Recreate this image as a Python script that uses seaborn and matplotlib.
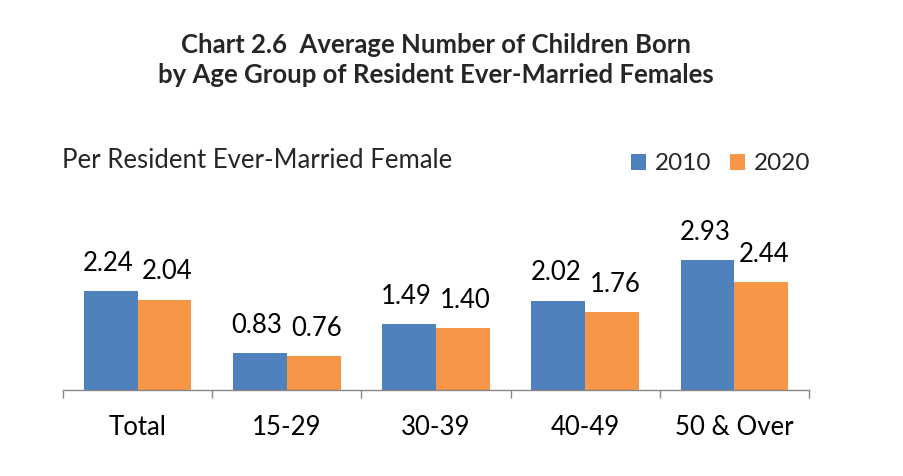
import matplotlib
matplotlib.use("Agg")
import matplotlib.pyplot as plt
import seaborn as sns
import pandas as pd
from matplotlib.patches import Patch

categories = ["Total", "15-29", "30-39", "40-49", "50 & Over"]
years = ["2010", "2020"]
values_2010 = [2.24, 0.83, 1.49, 2.02, 2.93]
values_2020 = [2.04, 0.76, 1.40, 1.76, 2.44]

sns.set_theme(style="white")
plt.rcParams['font.family'] = ['Lato', 'DejaVu Sans']

df = pd.DataFrame({
    "Age group": categories * 2,
    "Year": [years[0]] * len(categories) + [years[1]] * len(categories),
    "Value": values_2010 + values_2020,
})

colors = {"2010": "#4F81BD", "2020": "#F79646"}

fig = plt.figure(figsize=(9.04, 4.76), dpi=100)
ax = fig.add_axes([63/904, 86/476, 746/904, 154/476])

sns.barplot(data=df, x="Age group", y="Value", hue="Year", palette=colors,
            order=categories, hue_order=years, width=0.72, ax=ax,
            edgecolor="none", saturation=1, legend=False)

ax.set_ylim(0, 3.48)
ax.set_xlim(-0.5, len(categories) - 0.5)
ax.set_xlabel("")
ax.set_ylabel("")
ax.set_yticks([])
for s in ["top", "right", "left"]:
    ax.spines[s].set_visible(False)
ax.spines["bottom"].set_color("#868686")
ax.spines["bottom"].set_linewidth(1.0)

ax.set_xticks(range(len(categories)))
ax.set_xticklabels(categories, fontsize=18.5, color="#000000")
ax.tick_params(axis="x", length=0, pad=18)
ax.set_xticks([i - 0.5 for i in range(len(categories) + 1)], minor=True)
ax.tick_params(axis="x", which="minor", length=6, color="#868686", width=1, direction="out", bottom=True)

# value labels
for ci, cont in enumerate(ax.containers):
    vals = values_2010 if ci == 0 else values_2020
    dx = -2 if ci == 0 else 2
    for bar, v in zip(cont, vals):
        ax.annotate(f"{v:.2f}", (bar.get_x() + bar.get_width() / 2, bar.get_height()),
                    xytext=(dx, 11), textcoords="offset points",
                    ha="center", va="bottom", fontsize=18.5, color="#000000")

fig.text(436/904, 1 - 45/476, "Chart 2.6  Average Number of Children Born",
         ha="center", va="center", fontsize=18.5, fontweight="bold")
fig.text(436/904, 1 - 75/476, "by Age Group of Resident Ever-Married Females",
         ha="center", va="center", fontsize=18.5, fontweight="bold")
fig.text(62/904, 1 - 160/476, "Per Resident Ever-Married Female",
         ha="left", va="center", fontsize=18.5)

handles = [Patch(facecolor=colors[y], edgecolor="none") for y in years]
fig.legend(handles, years, loc="center right", bbox_to_anchor=(810/904, 1 - 164/476),
           ncol=2, frameon=False, fontsize=17.5, handlelength=0.6, handleheight=0.6,
           handletextpad=0.35, columnspacing=0.8, borderpad=0, borderaxespad=0)

fig.savefig("out.png", dpi=100)
